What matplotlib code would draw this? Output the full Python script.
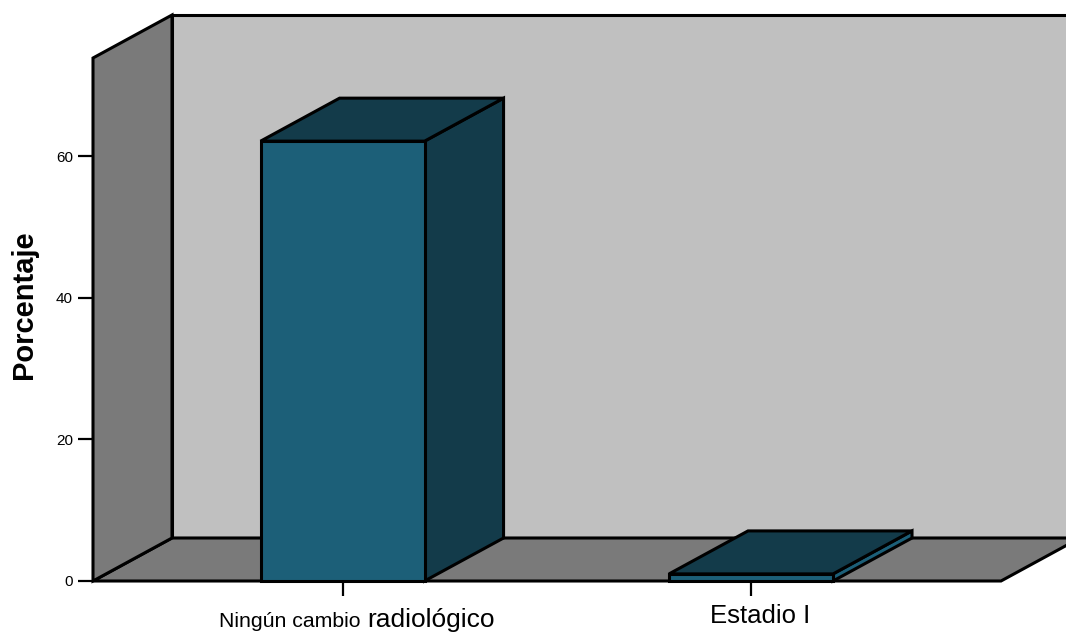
import matplotlib
matplotlib.use("Agg")
from matplotlib import pyplot as plt
from matplotlib.patches import Polygon

plt.rcParams['font.family'] = ['Liberation Sans', 'DejaVu Sans']

# values
positions = [0, 1]
percentages = [62.1, 1.0]
yticks = [0, 20, 40, 60]

W, H = 1066, 632
fig = plt.figure(figsize=(W / 100, H / 100), dpi=100)
# axes box is the front plane of the 3d box
ax = fig.add_axes([93 / W, 1 - 581 / H, 908 / W, 523 / H])
ax.set_xlim(-0.611, 1.612)
ax.set_ylim(0, 73.84)
ax.patch.set_visible(False)
for s in ax.spines.values():
    s.set_visible(False)

# depth of the box, in data units
dx = 79 / 408.5
dy = 43 / 7.083
bar_w = 0.4015

wall = '#c0c0c0'
floor = '#7a7a7a'
front = '#1c5f78'
dark = '#133b4a'
lw = 2.2


def face(pts, color, z):
    ax.add_patch(Polygon(pts, closed=True, facecolor=color, edgecolor='black',
                         linewidth=lw, joinstyle='miter', clip_on=False, zorder=z))


x0, x1 = ax.get_xlim()
y1 = ax.get_ylim()[1]

# back wall, floor and left wall
face([(x0 + dx, dy), (x1 + dx, dy), (x1 + dx, y1 + dy), (x0 + dx, y1 + dy)], wall, 1)
face([(x0, 0), (x1, 0), (x1 + dx, dy), (x0 + dx, dy)], floor, 2)
face([(x0, 0), (x0 + dx, dy), (x0 + dx, y1 + dy), (x0, y1)], floor, 3)

# bars
for p, v in zip(positions, percentages):
    l = p - bar_w / 2
    r = p + bar_w / 2
    face([(r, 0), (r + dx, dy), (r + dx, v + dy), (r, v)], dark if v > 5 else front, 4)
    face([(l, v), (r, v), (r + dx, v + dy), (l + dx, v + dy)], dark, 5)
    face([(l, 0), (r, 0), (r, v), (l, v)], front, 6)

ax.set_yticks(yticks)
ax.set_xticks(positions)
ax.set_xticklabels([])
ax.tick_params(axis='y', length=10.8, width=1.6, pad=3.6, labelsize=11)
ax.tick_params(axis='x', length=10.8, width=1.6)
for t in ax.xaxis.get_major_ticks() + ax.yaxis.get_major_ticks():
    t.tick1line.set_zorder(7)

# first category label is set in two sizes
trans = ax.get_xaxis_transform()
ax.annotate("Ningún cambio", (0, 0), xycoords=trans, xytext=(219 - 342.5, -46),
            textcoords='offset pixels', fontsize=15.3, ha='left', va='baseline', annotation_clip=False)
ax.annotate("radiológico", (0, 0), xycoords=trans, xytext=(367 - 342.5, -46),
            textcoords='offset pixels', fontsize=19, ha='left', va='baseline', annotation_clip=False)
ax.annotate("Estadio I", (1, 0), xycoords=trans, xytext=(710 - 751, -42),
            textcoords='offset pixels', fontsize=18.5, ha='left', va='baseline', annotation_clip=False)

fig.text(24 / W, 1 - 305 / H, "Porcentaje", rotation=90, ha='center', va='center',
         fontsize=21, fontweight='bold')

fig.savefig('out.png', dpi=100)
